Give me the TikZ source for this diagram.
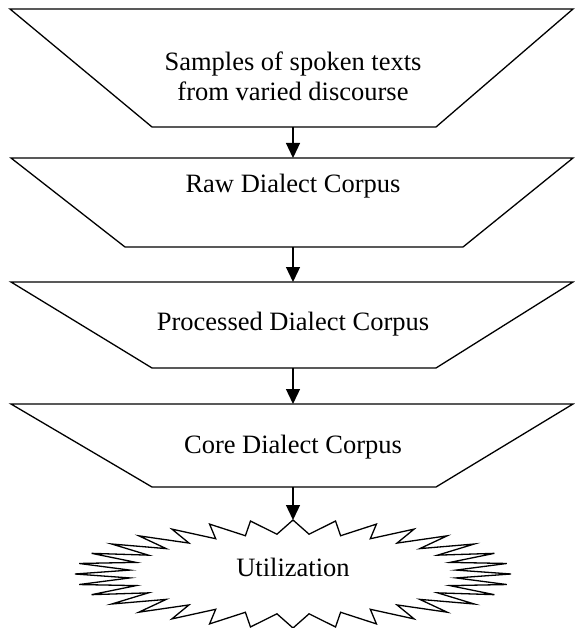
\documentclass[tikz,border=0pt]{standalone}
\usepackage{fontspec}
\setmainfont{Liberation Serif}
\usetikzlibrary{arrows.meta}
\begin{document}
\begin{tikzpicture}[x=1pt, y=-1pt,
  outline/.style={draw=black, line width=1.3pt, line join=miter},
  connector/.style={draw=black, line width=1.3pt, -{Triangle[length=15pt,width=14pt]}},
  caption/.style={font=\fontsize{26.5}{30}\selectfont, inner sep=0pt, align=center}]
\useasboundingbox[fill=white] (0,0) rectangle (574,628);

% stage 1: source samples
\draw[outline] (10,9) -- (573,9) -- (436,127) -- (152,127) -- cycle;
\coordinate (s1bot) at (293,127);
\node[caption] (s1text) at (293,76) {Samples of spoken texts\\from varied discourse};

% stage 2: raw corpus
\draw[outline] (11,158) -- (573,158) -- (463,247) -- (125,247) -- cycle;
\coordinate (s2top) at (293,158);
\coordinate (s2bot) at (293,247);
\node[caption, anchor=base] (s2text) at (293,193) {Raw Dialect Corpus};

% stage 3: processed corpus
\draw[outline] (11,282) -- (573,282) -- (436,368) -- (152,368) -- cycle;
\coordinate (s3top) at (293,282);
\coordinate (s3bot) at (293,368);
\node[caption, anchor=base] (s3text) at (293,330) {Processed Dialect Corpus};

% stage 4: core corpus
\draw[outline] (11,404) -- (573,404) -- (436,487) -- (152,487) -- cycle;
\coordinate (s4top) at (293,404);
\coordinate (s4bot) at (293,487);
\node[caption, anchor=base] (s4text) at (293,453) {Core Dialect Corpus};

% utilization burst: 32 points on an ellipse
\draw[outline] plot[samples=65, domain=0:64, variable=\k]
  ({293+ifthenelse(mod(round(\k),2)==0,218,164)*cos(\k*5.625)},
   {574-ifthenelse(mod(round(\k),2)==0,54,40)*sin(\k*5.625)}) -- cycle;
\coordinate (burst) at (293,520);
\node[caption, anchor=base] (util) at (293,576) {Utilization};

% connectors
\draw[connector] (s1bot) -- (s2top);
\draw[connector] (s2bot) -- (s3top);
\draw[connector] (s3bot) -- (s4top);
\draw[connector] (s4bot) -- (burst);
\end{tikzpicture}
\end{document}
